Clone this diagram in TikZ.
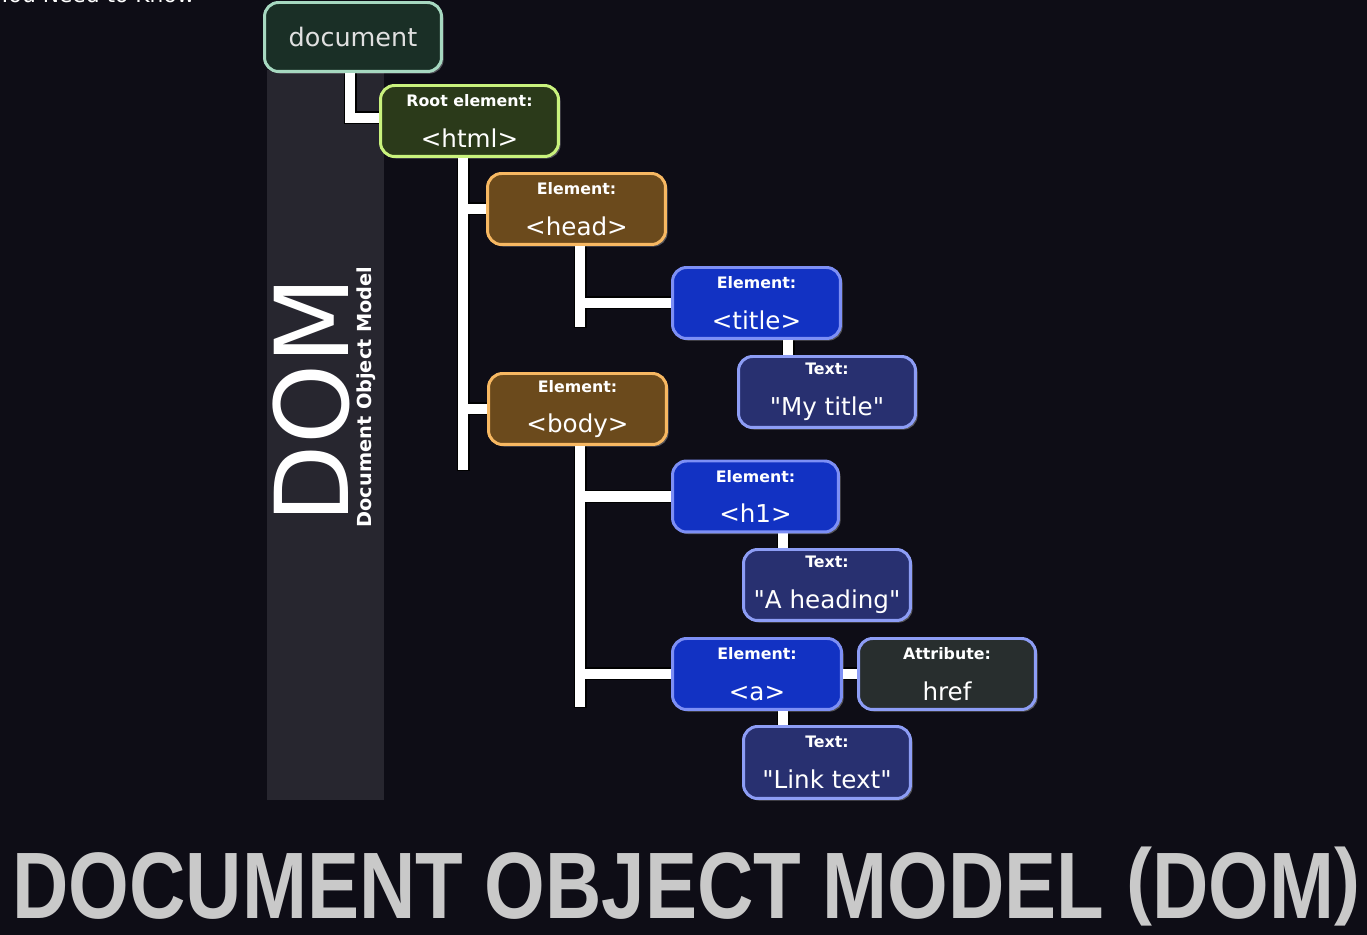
\documentclass[tikz,border=0pt]{standalone}
\usepackage{fontspec}
\setmainfont{DejaVu Sans}
\newfontfamily\captionfont{Liberation Sans}
\usetikzlibrary{positioning, shadows}

\definecolor{bgdark}{RGB}{14,13,22}
\definecolor{bandgray}{RGB}{39,38,47}
\definecolor{docfill}{RGB}{26,47,38}
\definecolor{docline}{RGB}{166,216,192}
\definecolor{rootfill}{RGB}{43,58,26}
\definecolor{rootline}{RGB}{201,242,125}
\definecolor{elemfill}{RGB}{107,74,28}
\definecolor{elemline}{RGB}{247,184,98}
\definecolor{tagfill}{RGB}{18,50,195}
\definecolor{tagline}{RGB}{125,143,245}
\definecolor{txtfill}{RGB}{40,48,112}
\definecolor{txtline}{RGB}{141,157,245}
\definecolor{attrfill}{RGB}{40,46,46}
\definecolor{titlegray}{RGB}{201,201,201}

\pgfdeclarelayer{backdrop}
\pgfdeclarelayer{wires}
\pgfsetlayers{backdrop,wires,main}

\newcommand{\boxlabel}[1]{{\fontsize{9}{11}\selectfont\bfseries #1}}
\newcommand{\qtext}[1]{\textquotedbl#1\textquotedbl}
\newcommand{\capparen}[1]{\raisebox{0.1em}{\scalebox{1}[0.9]{#1}}}

\tikzset{
    dombox/.style={rounded corners=8pt, line width=1.7pt, text=white, align=center,
                   minimum height=1.42cm, inner sep=0pt, font=\fontsize{14}{23}\selectfont,
                   drop shadow={shadow xshift=1.2pt, shadow yshift=-1.2pt, fill=white, opacity=0.3}},
    docbox/.style={dombox, draw=docline, fill=docfill, text=white!88!black,
                   minimum height=1.38cm, font=\fontsize{14.5}{17}\selectfont},
    rootbox/.style={dombox, draw=rootline, fill=rootfill},
    elembox/.style={dombox, draw=elemline, fill=elemfill},
    tagbox/.style={dombox, draw=tagline, fill=tagfill},
    textbox/.style={dombox, draw=txtline, fill=txtfill},
    attrbox/.style={dombox, draw=txtline, fill=attrfill},
    wire/.style={draw=white, line width=5.7pt, line cap=rect,
                 preaction={draw=black, line width=7.4pt, line cap=rect}}
}

\begin{document}
\begin{tikzpicture}[x=0.02cm, y=-0.02cm]
    \useasboundingbox (0,0) rectangle (1367,935);

    % backdrop and side band
    \begin{pgfonlayer}{backdrop}
        \fill[bgdark] (0,0) rectangle (1367,935);
        \fill[bandgray] (267,70) rectangle (384,800);
    \end{pgfonlayer}

    % cut-off heading at the top edge
    \node[anchor=base east, inner sep=0pt, text=white, font=\fontsize{12.4}{14}\selectfont]
        (kicker) at (195,3) {You Need to Know};

    % side band text
    \node[rotate=90, text=white, inner sep=0pt, font=\fontsize{58}{58}\selectfont] (dom) at (311,400) {DOM};
    \node[rotate=90, text=white, inner sep=0pt, font=\fontsize{11}{13}\selectfont\bfseries] (domfull) at (366,397) {Document Object Model};

    % tree boxes
    \node[docbox, minimum width=3.54cm] (doc) at (353,37) {document};
    \node[rootbox, minimum width=3.56cm] (html) at (469.5,121) {\boxlabel{Root element:}\\<html>};
    \node[elembox, minimum width=3.56cm] (head) at (576.5,209) {\boxlabel{Element:}\\<head>};
    \node[tagbox, minimum width=3.36cm] (title) at (756.5,303) {\boxlabel{Element:}\\<title>};
    \node[textbox, minimum width=3.54cm] (mytitle) at (827,392) {\boxlabel{Text:}\\\qtext{My title}};
    \node[elembox, minimum width=3.56cm] (body) at (577.5,409) {\boxlabel{Element:}\\<body>};
    \node[tagbox, minimum width=3.32cm] (h1) at (755.5,496.5) {\boxlabel{Element:}\\<h1>};
    \node[textbox, minimum width=3.34cm] (heading) at (827,585) {\boxlabel{Text:}\\\qtext{A heading}};
    \node[tagbox, minimum width=3.38cm] (atag) at (757,674) {\boxlabel{Element:}\\<a>};
    \node[attrbox, minimum width=3.54cm] (href) at (947,674) {\boxlabel{Attribute:}\\href};
    \node[textbox, minimum width=3.34cm, minimum height=1.44cm] (linktext) at (827,762.5) {\boxlabel{Text:}\\\qtext{Link text}};

    % connectors
    \coordinate (docdrop) at (350,118);
    \coordinate (htmltrunk) at (463,465);
    \coordinate (headtrunk) at (580,322);
    \coordinate (bodytrunk) at (580,702);
    \coordinate (titledrop) at (788,0);
    \coordinate (textdrop) at (783,0);
    \begin{pgfonlayer}{wires}
        \draw[wire] (doc.south -| docdrop) -- (docdrop) -- (docdrop -| html.west)
            (html.south -| htmltrunk) -- (htmltrunk)
            (head.west) -- (head.west -| htmltrunk)
            (body.west) -- (body.west -| htmltrunk)
            (head.south -| headtrunk) -- (headtrunk)
            (title.west) -- (title.west -| headtrunk)
            (title.south -| titledrop) -- (mytitle.north -| titledrop)
            (body.south -| bodytrunk) -- (bodytrunk)
            (h1.west) -- (h1.west -| bodytrunk)
            (atag.west) -- (atag.west -| bodytrunk)
            (h1.south -| textdrop) -- (heading.north -| textdrop)
            (atag.south -| textdrop) -- (linktext.north -| textdrop)
            (atag.east) -- (href.west);
    \end{pgfonlayer}

    % big caption
    \node[anchor=base west, inner sep=0pt, text=titlegray] (caption) at (12,918)
        {\resizebox{26.96cm}{1.42cm}{\captionfont\bfseries DOCUMENT OBJECT MODEL \capparen{(}DOM\capparen{)}}};
\end{tikzpicture}
\end{document}
